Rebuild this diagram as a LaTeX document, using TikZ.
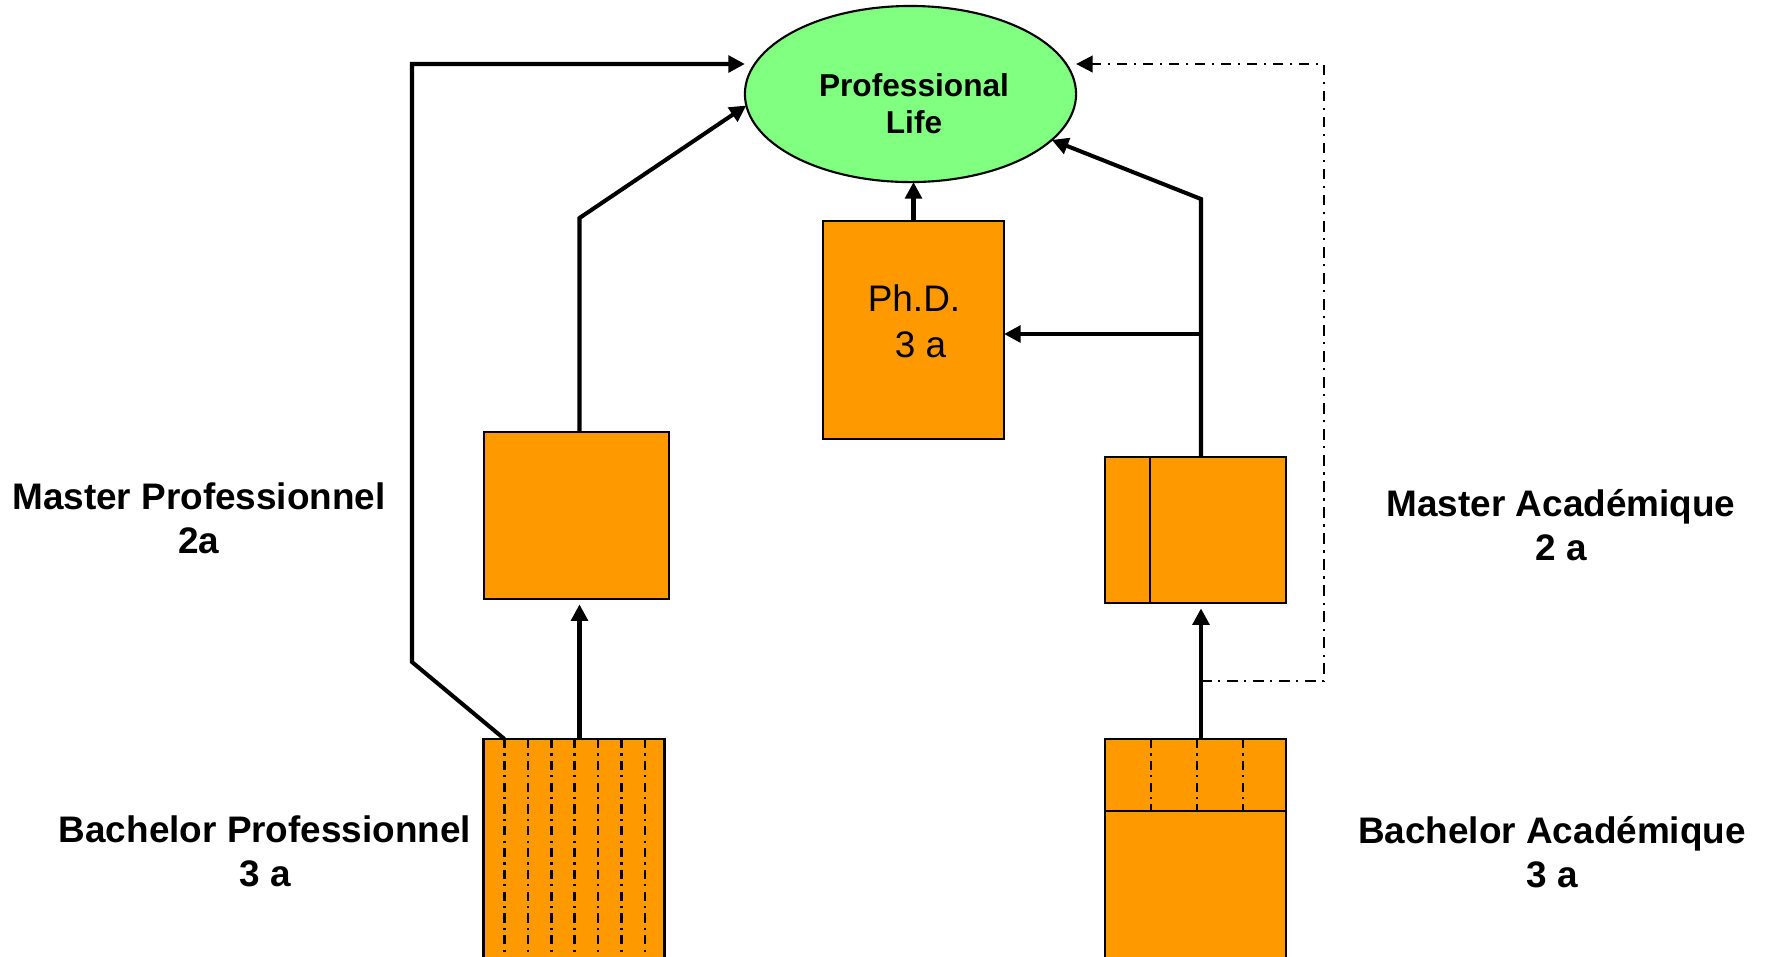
\documentclass[tikz,border=0pt]{standalone}
\usepackage{fontspec}
\setmainfont{Liberation Sans}
\usetikzlibrary{arrows.meta,shapes.geometric}
\definecolor{boxorange}{HTML}{FF9900}
\definecolor{lifegreen}{HTML}{80FF80}

\begin{document}
\begin{tikzpicture}[x=0.01cm, y=-0.01cm, every node/.style={inner sep=0pt, outer sep=0pt}, % Fig 1
	yearbox/.style={draw=black, line width=0.75pt, fill=boxorange, minimum width=\BoxWidthFigEdu},
	flow/.style={line width=1.15pt, -{Triangle[length=4.7pt,width=4.7pt]}},
	lane/.style={line width=0.75pt, dash pattern=on 2.6pt off 1.5pt on 0.6pt off 1.5pt},
	bypass/.style={line width=0.7pt, dash pattern=on 3pt off 1.9pt on 0.6pt off 1.9pt, -{Triangle[length=4.7pt,width=4.7pt]}},
	title/.style={font=\fontsize{10.5}{12.5}\selectfont\bfseries, align=center}]
	\newcommand{\BoxWidthFigEdu}{1.81cm}
	\newcommand{\LaneStepFigEdu}{23.4}
	\useasboundingbox (0,0) rectangle (1765,956);
	\node[ellipse, draw=black, line width=0.6pt, fill=lifegreen, minimum width=3.31cm, minimum height=1.76cm] (life) at (910.5,94) {};
	\node[font=\fontsize{9}{10.5}\selectfont\bfseries, align=center] (lifetext) at (914,103.5) {Professional\\Life};
	\node[yearbox, minimum height=2.18cm] (phd) at (913.5,330) {};
	\node[font=\fontsize{10.5}{13}\selectfont, align=center] (phdtext) at (914,321) {Ph.D.\\\hspace*{0.35em}3 a};
	\node[yearbox, minimum width=1.85cm, minimum height=1.67cm] (mpro) at (576.5,515.5) {};
	\node[yearbox, minimum height=1.46cm] (maca) at (1195.5,530) {};
	\node[yearbox, minimum height=2.6cm, anchor=north] (bpro) at (574,739) {};
	\node[yearbox, minimum height=2.6cm, anchor=north] (baca) at (1195.5,739) {};
	\draw[line width=0.75pt] ([xshift=0.45cm]maca.north west) -- ([xshift=0.45cm]maca.south west);
	\draw[line width=0.75pt] ([yshift=-0.72cm]baca.north west) -- ([yshift=-0.72cm]baca.north east);
	\foreach \dx in {46,92,138} \draw[lane] (baca.north west) ++(\dx,0) -- ++(0,72);
	\foreach \i in {0,...,6} \draw[lane] (bpro.north west) ++({21+\LaneStepFigEdu*\i},0) -- ++(0,260);
	% corners of the connectors
	\coordinate (kinkL) at (412,662);
	\coordinate (cornerL) at (412,64);
	\coordinate (kinkM) at (579.5,218);
	\coordinate (kinkR) at (1201,199);
	\coordinate (splitR) at (1201,334);
	\coordinate (branchR) at (1201,681);
	\coordinate (cornerRlow) at (1324,681);
	\coordinate (cornerRtop) at (1324,64);
	\draw[flow] (bpro.north west) ++(21,0) -- (kinkL) -- (cornerL) -- (cornerL -| life.west);
	\draw[flow, shorten >=1.5pt] (kinkM |- bpro.north) -- (kinkM |- mpro.south);
	\draw[flow] (kinkM |- mpro.north) -- (kinkM) -- (life.184);
	\draw[flow] (phd.north) -- (phd.north |- life.south);
	\draw[flow] (maca.north -| kinkR) -- (kinkR) -- (life.-18);
	\draw[flow] (splitR) -- (splitR -| phd.east);
	\draw[flow, shorten >=1.5pt] (baca.north -| kinkR) -- (maca.south -| kinkR);
	\draw[bypass] (branchR) -- (cornerRlow) -- (cornerRtop) -- (cornerRtop -| life.east); % dash-dot way out
	\node[title] (mprolabel) at (199,518) {Master Professionnel\\2a};
	\node[title] (bprolabel) at (265,851) {Bachelor Professionnel\\3 a};
	\node[title] (macalabel) at (1561,525) {Master Académique\\2 a};
	\node[title] (bacalabel) at (1552,852) {Bachelor Académique\\3 a};
\end{tikzpicture}
\end{document}
